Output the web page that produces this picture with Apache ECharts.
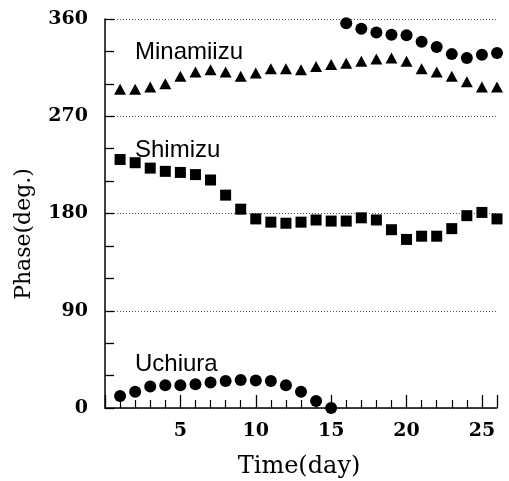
<!DOCTYPE html>
<html>
<head>
<meta charset="UTF-8">
<title>Phase</title>
<script src="https://cdn.jsdelivr.net/npm/echarts@6/dist/echarts.min.js"></script>
<style>
	html, body { margin: 0; padding: 0; background: #fff; }
	#chart { width: 509px; height: 481px; }
</style>
</head>
<body>
<div id="chart"></div>
<script>
	// days 1..26
	var days = [1,2,3,4,5,6,7,8,9,10,11,12,13,14,15,16,17,18,19,20,21,22,23,24,25,26];
	// Minamiizu (triangles)
	var minamiizu = [295,295,297,300,307,311,313,311,307,310,314,314,313,316,318,319,321,323,324,321,314,311,307,302,297,297];
	// Shimizu (squares)
	var shimizu = [230,227,222,219,218,216,211,197,184,175,172,171,172,174,173,173,176,174,165,156,159,159,166,178,181,175];
	// Uchiura (circles), days 1-15 and then wrapped near 360 for days 16-26
	var uchiuraDays1 = [1,2,3,4,5,6,7,8,9,10,11,12,13,14,15];
	var uchiura1 = [11,15,20,21,21,22,23.5,25,26,25.5,25,21,15,6.5,0];
	var uchiuraDays2 = [16,17,18,19,20,21,22,23,24,25,26];
	var uchiura2 = [356,351,347.5,345.5,345,339,334,327.5,324,327,328.5];

	var yTicks = [0, 90, 180, 270, 360];
	var xTicks = [5, 10, 15, 20, 25];

	function pairs(xs, ys){
		var out = [];
		for (var i = 0; i < xs.length; i++) out.push([xs[i], ys[i]]);
		return out;
	}

	var serif = 'DejaVu Serif';
	var sans = '"Liberation Sans", Arial, sans-serif';
	var chart = echarts.init(document.getElementById('chart'));
	var option = {
		animation: false,
		backgroundColor: '#fff',
		grid: { left: 105, right: 12, top: 19, bottom: 73 },
		xAxis: {
			type: 'value', min: 0, max: 26, interval: 5,
			axisLine: { show: true, onZero: false, lineStyle: { color: '#000', width: 1.5 } },
			axisTick: { show: true, inside: true, length: 13, lineStyle: { color: '#000', width: 1.3 } },
			minorTick: { show: true, splitNumber: 5, length: 8, lineStyle: { color: '#000', width: 1.2 } },
			splitLine: { show: false },
			axisLabel: {
				margin: 14, fontFamily: serif, fontWeight: 'bold', fontSize: 19, color: '#000',
				formatter: function(v){ return xTicks.indexOf(v) >= 0 ? String(v) : ''; }
			}
		},
		yAxis: {
			type: 'value', min: 0, max: 360, interval: 90,
			axisLine: { show: true, onZero: false, lineStyle: { color: '#000', width: 1.5 } },
			axisTick: { show: true, inside: true, length: 9, lineStyle: { color: '#000', width: 1.3 } },
			minorTick: { show: true, splitNumber: 3, length: 9, lineStyle: { color: '#000', width: 1.3 } },
			splitLine: { show: true, lineStyle: { color: '#555', type: [1, 2], width: 1 } },
			axisLabel: {
				margin: 17, fontFamily: serif, fontWeight: 'bold', fontSize: 19, color: '#000',
				formatter: function(v){ return yTicks.indexOf(v) >= 0 ? String(v) : ''; }
			}
		},
		graphic: [
			{ type: 'text', left: 135, top: 40, style: { text: 'Minamiizu', font: '24px ' + sans, fill: '#000' } },
			{ type: 'text', left: 135, top: 138, style: { text: 'Shimizu', font: '24px ' + sans, fill: '#000' } },
			{ type: 'text', left: 135, top: 352, style: { text: 'Uchiura', font: '24px ' + sans, fill: '#000' } },
			{ type: 'text', x: 299, y: 467, style: { text: 'Time(day)', font: '24px "DejaVu Serif"', fill: '#000', align: 'center', verticalAlign: 'middle' } },
			{ type: 'text', x: 24, y: 234, rotation: Math.PI / 2, style: { text: 'Phase(deg.)', font: '22px "DejaVu Serif"', fill: '#000', align: 'center', verticalAlign: 'middle' } }
		],
		series: [
			{
				name: 'Minamiizu', type: 'scatter', symbol: 'triangle', symbolSize: [12, 11],
				itemStyle: { color: '#000', opacity: 1 }, data: pairs(days, minamiizu)
			},
			{
				name: 'Shimizu', type: 'scatter', symbol: 'rect', symbolSize: 11,
				itemStyle: { color: '#000', opacity: 1 }, data: pairs(days, shimizu)
			},
			{
				name: 'Uchiura', type: 'scatter', symbol: 'circle', symbolSize: 12, clip: false,
				itemStyle: { color: '#000', opacity: 1 },
				data: pairs(uchiuraDays1, uchiura1).concat(pairs(uchiuraDays2, uchiura2))
			}
		]
	};
	chart.setOption(option);
</script>
</body>
</html>
